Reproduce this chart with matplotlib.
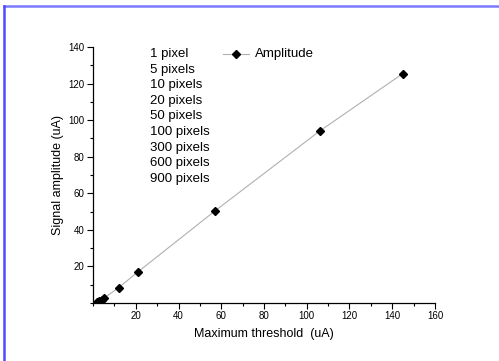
import matplotlib
matplotlib.use("Agg")
import matplotlib.pyplot as plt
from matplotlib.lines import Line2D
from matplotlib.ticker import MultipleLocator

# threshold vs amplitude, one point per cluster size
threshold = [2.0, 3.0, 4.0, 5.2, 12.0, 21.0, 57.0, 106.0, 145.0]
amplitude = [0.6, 1.2, 1.9, 2.7, 8.4, 17.0, 50.3, 94.0, 125.5]
pixel_labels = ["1 pixel", "5 pixels", "10 pixels", "20 pixels", "50 pixels",
                "100 pixels", "300 pixels", "600 pixels", "900 pixels"]

plt.rcParams['font.family'] = ['Liberation Sans', 'DejaVu Sans']

fig = plt.figure(figsize=(4.99, 3.61), dpi=100)
ax = fig.add_axes([0.1864, 0.1607, 0.6853, 0.7091])

ax.plot(threshold, amplitude, '-', color='#b0b0b0', lw=0.8, zorder=1)
ax.plot(threshold, amplitude, 'D', color='black', ms=4.3, lw=0, zorder=2)

ax.set_xlim(0, 160)
ax.set_ylim(0, 140)
ax.xaxis.set_minor_locator(MultipleLocator(10))
ax.yaxis.set_minor_locator(MultipleLocator(10))
ax.set_xticks([20, 40, 60, 80, 100, 120, 140, 160])
ax.set_yticks([20, 40, 60, 80, 100, 120, 140])

for side in ['top', 'right']:
    ax.spines[side].set_visible(False)
for side in ['left', 'bottom']:
    ax.spines[side].set_linewidth(0.9)
ax.tick_params(which='major', direction='out', length=4, width=0.8,
               labelsize=7, pad=2)
ax.tick_params(which='minor', direction='out', length=2.5, width=0.8)

ax.set_xlabel("Maximum threshold  (uA)", fontsize=9, labelpad=5)
ax.set_ylabel("Signal amplitude (uA)", fontsize=9, labelpad=3)

# list of cluster sizes in the upper-left corner
for i, lab in enumerate(pixel_labels):
    fig.text(150 / 499, 1 - (54 + i * 15.6) / 361, lab, fontsize=9.5,
             va='center', ha='left')

# legend drawn by hand
leg_y = 1 - 54 / 361
fig.add_artist(Line2D([223 / 499, 249 / 499], [leg_y, leg_y],
                      color='#b0b0b0', lw=0.8))
fig.add_artist(Line2D([236 / 499], [leg_y], marker='D', color='black',
                      ms=4.3, lw=0))
fig.text(255 / 499, leg_y, "Amplitude", fontsize=9.5, va='center', ha='left')

# blue frame on top and left edges
fig.add_artist(Line2D([3.5 / 499, 1], [1 - 5.5 / 361, 1 - 5.5 / 361],
                      color='#7b7bff', lw=1.8))
fig.add_artist(Line2D([3.5 / 499, 3.5 / 499], [0, 1 - 5.5 / 361],
                      color='#4a4aff', lw=1.8))

fig.savefig("out.png", dpi=100)
